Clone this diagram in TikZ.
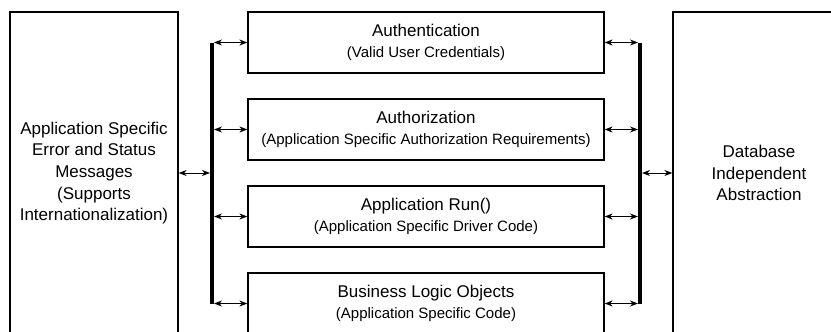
\documentclass[tikz,border=0pt]{standalone}
\usepackage{fontspec}
\setmainfont{Liberation Sans}
\usetikzlibrary{arrows.meta}
\begin{document}
\begin{tikzpicture}[x=1pt,y=-1pt,
side/.style ={rectangle, draw, line width=1.2pt,
  minimum width=168pt, minimum height=322pt, inner sep=0pt,
  align=center, font=\fontsize{17}{21.7}\selectfont
},
layer/.style ={rectangle, draw, line width=1.2pt,
  minimum width=356pt, minimum height=61pt, inner sep=0pt,
  align=center, font=\fontsize{17}{21.7}\selectfont
},
link/.style ={line width=1pt, {Stealth[length=8pt,width=6pt,inset=2.5pt]}-{Stealth[length=8pt,width=6pt,inset=2.5pt]}},
bus/.style ={line width=4pt}
]
\useasboundingbox (0,0) rectangle (831,332);
\clip (0,0) rectangle (831,332);
\node (msg) at (94,173) [side] {Application Specific\\Error and Status\\Messages\\(Supports\\Internationalization)};
\node (db) at (759,173) [side, minimum width=172pt] {Database\\Independent\\Abstraction};
\node (auth) at (426,42.5) [layer] {Authentication\\{\fontsize{15}{21.7}\selectfont(Valid User Credentials)}};
\node (authz) at (426,129.5) [layer] {Authorization\\{\fontsize{15}{21.7}\selectfont(Application Specific Authorization Requirements)}};
\node (run) at (426,216.5) [layer] {Application Run()\\{\fontsize{15}{21.7}\selectfont(Application Specific Driver Code)}};
\node (logic) at (426,303.5) [layer] {Business Logic Objects\\{\fontsize{15}{21.7}\selectfont(Application Specific Code)}};
% buses
\coordinate (lbus) at (212,173);
\coordinate (rbus) at (640,173);
\draw[bus] (auth.west -| lbus) -- (logic.west -| lbus);
\draw[bus] (auth.east -| rbus) -- (logic.east -| rbus);
% links
\draw[link] (msg.east) -- ([xshift=-2pt]lbus);
\draw[link] ([xshift=2pt]rbus) -- (db.west);
\foreach \n in {auth,authz,run,logic} {
  \draw[link] ([xshift=2pt]\n.west -| lbus) -- (\n.west);
  \draw[link] (\n.east) -- ([xshift=-2pt]\n.east -| rbus);
}
\end{tikzpicture}
\end{document}
